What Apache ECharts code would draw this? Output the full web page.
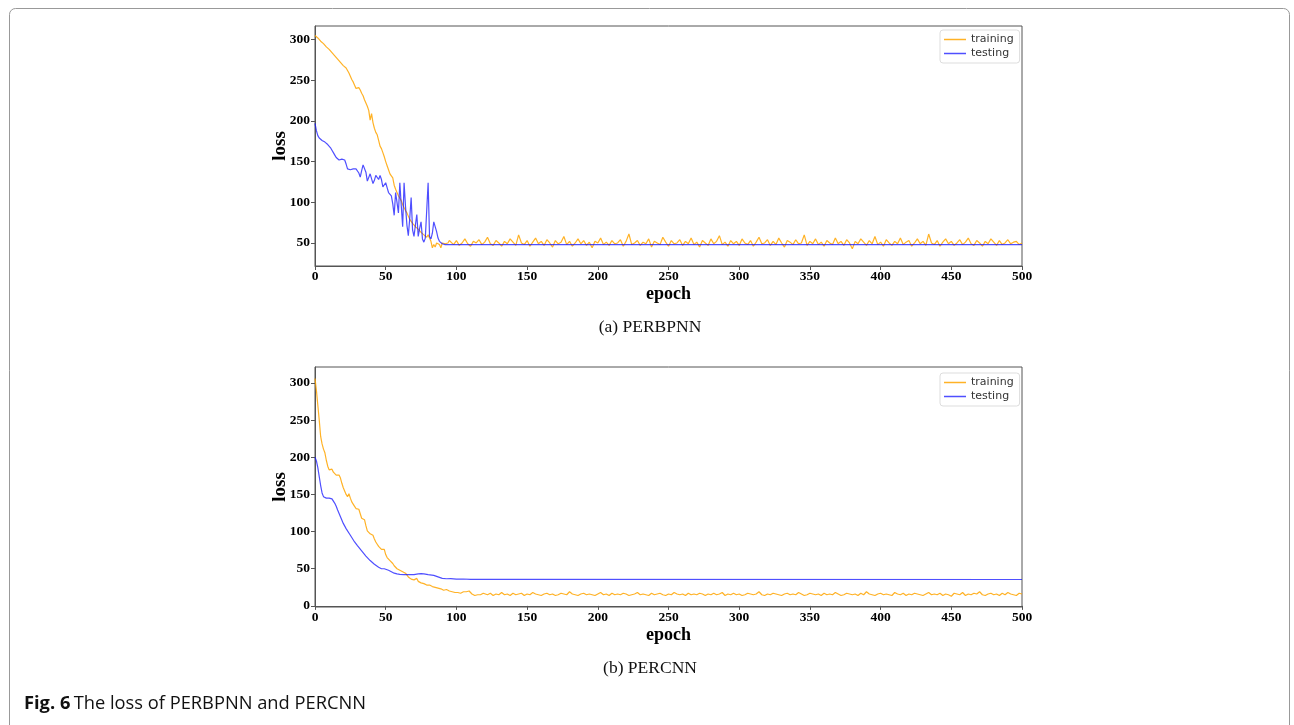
<!DOCTYPE html>
<html>
<head>
<meta charset="utf-8">
<script src="https://cdn.jsdelivr.net/npm/echarts@6/dist/echarts.min.js"></script>
<style>
html,body{margin:0;padding:0;background:#fff;}
#c{width:1294px;height:725px;}
</style>
</head>
<body>
<div id="c"></div>
<script>
// ---------- DATA ----------
const seriesNames = ['training', 'testing'];
const xTicks = [0, 50, 100, 150, 200, 250, 300, 350, 400, 450, 500];
const yTicksA = [50, 100, 150, 200, 250, 300];
const yTicksB = [0, 50, 100, 150, 200, 250, 300];

// (a) PERBPNN training: epochs 0..95 every epoch
const trainA_head = [305,303,302,300,298,297,295,293,291,290,288,286,284,283,280,278,276,274,272,270,268,269,265,262,259,255,251,248,244,240,239,241,238,234,231,226,222,218,213,201,209,198,191,186,183,176,169,166,161,156,150,145,140,135,136,130,121,116,112,108,106,102,97,95,90,87,83,79,77,74,73,70,69,67,65,63,62,60,58,57,60,61,52,44,48,45,50,52,48,44,50,52,49,47,50,53];
// (a) PERBPNN training: epochs 96..500 every 2 epochs
const trainA_tail = [51,48,53,47,50,55,49,46,52,50,54,48,51,57,49,47,53,50,46,52,
49,55,51,47,60,50,48,53,46,51,56,49,52,47,54,50,45,53,49,51,
58,48,52,46,50,55,49,53,47,51,44,52,50,56,48,51,47,53,49,50,
54,46,52,61,48,50,53,47,51,49,55,45,52,50,48,57,51,46,53,49,
50,54,47,52,49,56,48,51,45,53,50,47,55,49,52,59,48,51,46,53,
49,52,47,55,50,48,53,46,51,57,49,50,54,47,52,48,56,50,45,53,
51,48,54,49,50,60,47,52,49,55,48,51,46,53,50,48,56,49,52,47,
54,50,43,52,49,55,51,47,53,49,58,48,51,46,54,50,47,52,49,56,
48,51,53,46,50,55,49,52,47,61,50,48,53,46,51,55,49,52,47,50,
54,48,51,56,49,47,53,50,46,52,49,55,51,47,53,48,50,54,49,51,
52,48,50];
// (a) PERBPNN testing
const testA_epochs = [0,1,2,3,4,5,6,7,8,9,10,11,12,13,14,15,16,17,18,19,20,21,22,23,24,25,26,27,28,29,30,31,32,33,34,35,36,37,38,39,40,41,42,43,44,45,46,47,48,49,50,51,52,53,54,55,56,57,58,59,60,61,62,63,64,65,66,67,68,69,70,71,72,73,74,75,76,77,78,79,80,81,82,83,84,85,86,87,88,89,90,91,92,500];
const testA_values = [197,188,182,179,177,176,175,174,173,171,169,167,164,161,158,155,153,152,152,153,155,152,147,141,139,140,140,141,141,141,141,136,131,139,146,147,137,126,124,135,133,123,127,133,131,128,133,128,119,120,124,118,112,111,108,98,84,112,100,87,124,96,70,124,95,72,59,80,106,66,58,72,85,58,68,76,55,51,56,90,124,58,55,62,76,74,64,56,52,50,49,48.5,48,48];

// (b) PERCNN training: epochs 0..119 every epoch
const trainB_head = [306,290,270,250,228,218,211,206,196,188,183,182,184,180,178,176,174,176,172,165,159,160,150,147,151,145,140,137,134,131,133,130,124,118,117,116,108,101,99,97,98,95,90,86,83,80,79,76,77,76,69,65,63,61,59,57,54,52,50,49,48,48,46,45,44,42,39,37,36,35,35,36,37,33,32,31,30,30,29,28,28,28,27,26,26,25,24,24,23,23,22,21,21,22,23,20,19,19,18,18,17,18,17,17,18,19,18,19,20,20,18,16,15,14,14,15,16,15,16,17];
// (b) PERCNN training: epochs 120..500 every 2 epochs
const trainB_tail = [16,15,17,14,16,15,18,15,16,14,17,15,16,17,14,16,15,18,16,15,
14,16,17,15,16,14,15,17,16,15,19,16,15,14,16,17,15,16,15,14,
16,18,15,16,14,17,15,16,15,17,16,14,15,16,18,15,16,15,14,17,
15,16,17,15,14,16,15,18,16,15,16,14,17,15,16,15,17,16,14,16,
15,17,15,16,18,14,16,15,17,15,16,14,15,17,16,15,16,19,15,14,
16,15,17,16,15,14,16,17,15,16,15,18,16,14,15,17,16,15,16,14,
17,15,16,15,18,16,14,15,17,16,15,16,14,17,15,19,16,15,14,16,
17,15,16,15,14,18,16,15,17,14,16,15,17,16,15,14,16,18,15,16,
15,17,14,16,15,13,17,16,15,18,14,16,15,17,16,19,15,14,16,17,
15,16,14,17,15,18,16,15,14,17,16];
// (b) PERCNN testing
const testB_epochs = [0,1,2,3,4,5,6,7,8,10,12,13,14,15,16,18,20,22,25,28,30,33,36,39,42,45,47,49,50,52,54,56,58,60,63,66,70,73,75,77,80,84,87,90,93,96,100,105,110,120,500];
const testB_values = [200,195,186,174,162,152,147,145,145,145,144,142,138,134,129,120,111,104,95,86,81,74,67,61,56,52,50,50,50.5,48,46,44,43,42.5,42,42,42,43,43.5,43,42,41,39,37,36.5,36.8,36,36.2,35.7,35.6,35.5];

// ---------- BUILD ----------
function stepPairs(start, step, vals) { return vals.map((v, i) => [start + i * step, v]); }
function zipPairs(xs, ys) { return xs.map((x, i) => [x, ys[i]]); }

const trainA = stepPairs(0, 1, trainA_head).concat(stepPairs(96, 2, trainA_tail));
const testA = zipPairs(testA_epochs, testA_values);
const trainB = stepPairs(0, 1, trainB_head).concat(stepPairs(120, 2, trainB_tail));
const testB = zipPairs(testB_epochs, testB_values);

const ORANGE = 'rgba(255,165,0,0.85)';
const BLUE = 'rgba(20,20,255,0.75)';
const AXC = '#555';
const serif = '"Liberation Serif", "Times New Roman", serif';

function xAxis(gi) {
  return {
    type: 'value', gridIndex: gi, min: 0, max: 500, interval: 50,
    name: 'epoch', nameLocation: 'middle', nameGap: 16,
    nameTextStyle: { fontFamily: serif, fontWeight: 'bold', fontSize: 18, color: '#000' },
    axisLine: { show: true, lineStyle: { color: AXC, width: 1 } },
    axisTick: { show: true, length: 4, lineStyle: { color: AXC }, customValues: xTicks },
    axisLabel: { fontFamily: serif, fontWeight: 'bold', fontSize: 13.5, color: '#000', margin: 4, customValues: xTicks },
    splitLine: { show: false }
  };
}
function yAxis(gi, min, max, ticks) {
  return {
    type: 'value', gridIndex: gi, min: min, max: max,
    name: 'loss', nameLocation: 'middle', nameGap: 25, nameRotate: 90, nameMoveOverlap: false,
    nameTextStyle: { fontFamily: serif, fontWeight: 'bold', fontSize: 19, color: '#000' },
    axisLine: { show: true, lineStyle: { color: AXC, width: 1 } },
    axisTick: { show: true, length: 4, lineStyle: { color: AXC }, customValues: ticks },
    axisLabel: { fontFamily: serif, fontWeight: 'bold', fontSize: 13.5, color: '#000', margin: 5, customValues: ticks },
    splitLine: { show: false }
  };
}
function legend(top) {
  return {
    data: seriesNames, orient: 'vertical', left: 940, top: top,
    padding: [4, 6, 4, 4], itemGap: 3, itemWidth: 22, itemHeight: 1.5, icon: 'rect',
    borderColor: '#ddd', borderWidth: 1, borderRadius: 3, backgroundColor: '#fff',
    textStyle: { fontFamily: '"DejaVu Sans", sans-serif', fontSize: 11, color: '#333', lineHeight: 11 }
  };
}
function line(name, data, color, xi) {
  return {
    name: name, type: 'line', xAxisIndex: xi, yAxisIndex: xi, data: data,
    showSymbol: false, symbol: 'none', smooth: false,
    lineStyle: { color: color, width: 1.2 }, itemStyle: { color: color }, z: name === 'testing' ? 3 : 2
  };
}

const chart = echarts.init(document.getElementById('c'), null, { renderer: 'canvas' });
chart.setOption({
  animation: false,
  backgroundColor: '#fff',
  grid: [
    { left: 315, top: 26, width: 707, height: 240, show: true, borderColor: AXC, borderWidth: 1, backgroundColor: 'transparent' },
    { left: 315, top: 367, width: 707, height: 240, show: true, borderColor: AXC, borderWidth: 1, backgroundColor: 'transparent' }
  ],
  xAxis: [xAxis(0), xAxis(1)],
  yAxis: [yAxis(0, 21.7, 316.7, yTicksA), yAxis(1, -1.5, 321.5, yTicksB)],
  legend: [legend(30), legend(373)],
  series: [
    line('training', trainA, ORANGE, 0),
    line('testing', testA, BLUE, 0),
    line('training', trainB, ORANGE, 1),
    line('testing', testB, BLUE, 1)
  ],
  graphic: [
    { type: 'rect', shape: { x: 9.5, y: 8.5, width: 1280, height: 760, r: 6 }, style: { fill: 'none', stroke: '#999', lineWidth: 1 }, silent: true },
    { type: 'text', x: 650, y: 327, style: { text: '(a) PERBPNN', font: '17.5px "Liberation Serif", serif', fill: '#111', textAlign: 'center', textVerticalAlign: 'middle' } },
    { type: 'text', x: 650, y: 668, style: { text: '(b) PERCNN', font: '17.5px "Liberation Serif", serif', fill: '#111', textAlign: 'center', textVerticalAlign: 'middle' } },
    { type: 'text', x: 24, y: 704, style: {
        text: '{b|Fig. 6} {n|The loss of PERBPNN and PERCNN}', textVerticalAlign: 'middle',
        rich: {
          b: { fontFamily: '"Open Sans", sans-serif', fontWeight: 'bold', fontSize: 18.3, fill: '#111' },
          n: { fontFamily: '"Open Sans", sans-serif', fontSize: 18.3, fill: '#111' }
        } } }
  ]
});
</script>
</body>
</html>
